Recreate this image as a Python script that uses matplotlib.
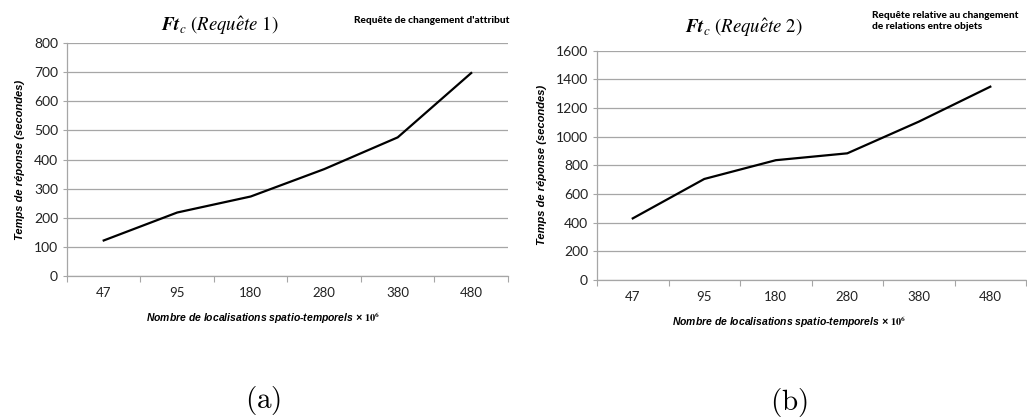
import numpy as np
import matplotlib
matplotlib.use("Agg")
import matplotlib.pyplot as plt

categories = ["47", "95", "180", "280", "380", "480"]
req1 = [122, 218, 273, 367, 476, 697]
req2 = [430, 705, 836, 884, 1105, 1349]

plt.rcParams['font.family'] = ['Lato', 'DejaVu Sans']
plt.rcParams['mathtext.fontset'] = 'stix'

fig = plt.figure(figsize=(10.27, 4.18), dpi=100)

grid_c = '#a6a6a6'
narrow = ['Liberation Sans Narrow', 'Liberation Sans', 'DejaVu Sans']


def style_ax(ax, ymax, ystep):
    x = np.arange(len(categories))
    ax.set_xlim(-0.5, len(categories) - 0.5)
    ax.set_ylim(0, ymax)
    ax.set_yticks(np.arange(0, ymax + 1, ystep))
    ax.set_xticks(x)
    ax.set_xticklabels(categories)
    ax.set_xticks(np.arange(-0.5, len(categories), 1.0), minor=True)
    ax.tick_params(axis='x', which='major', length=0, labelsize=9.5, pad=8, colors='#222222')
    ax.tick_params(axis='x', which='minor', length=4, color=grid_c, width=0.8)
    ax.tick_params(axis='y', length=3, color=grid_c, width=0.8, labelsize=10, labelcolor='#222222')
    ax.grid(axis='y', color=grid_c, linewidth=0.9)
    ax.set_axisbelow(True)
    for s in ['top', 'right']:
        ax.spines[s].set_visible(False)
    for s in ['left', 'bottom']:
        ax.spines[s].set_color(grid_c)
        ax.spines[s].set_linewidth(0.9)
    ax.set_ylabel('Temps de réponse (secondes)', fontsize=8, fontweight='bold',
                  fontstyle='italic', family=narrow, labelpad=6)


xlab = r'Nombre de localisations spatio-temporels × $\mathbf{10^{6}}$'

# (a)
ax1 = fig.add_axes([0.0652, 0.3397, 0.4294, 0.5574])
style_ax(ax1, 800, 100)
ax1.plot(np.arange(len(categories)), req1, color='black', linewidth=1.6)
fig.text(0.214, 0.94, r'$\mathbfit{Ft}_c\ (Requ\hat{e}te\ 1)$', fontsize=13.5,
         ha='center', va='center')
fig.text(0.496, 0.95, "Requête de changement d'attribut", fontsize=7.3,
         fontweight='black', ha='right', va='center')
fig.text(0.256, 0.239, xlab, fontsize=7.5, fontweight='bold', fontstyle='italic',
         family=narrow, ha='center', va='center')
fig.text(0.256, 0.043, r'$\mathrm{(a)}$', fontsize=21, ha='center', va='center',
         math_fontfamily='cm')

# (b)
ax2 = fig.add_axes([0.5813, 0.3301, 0.4178, 0.5486])
style_ax(ax2, 1600, 200)
ax2.plot(np.arange(len(categories)), req2, color='black', linewidth=1.6)
fig.text(0.724, 0.935, r'$\mathbfit{Ft}_c\ (Requ\hat{e}te\ 2)$', fontsize=13.5,
         ha='center', va='center')
fig.text(0.849, 0.95, "Requête relative au changement\nde relations entre objets",
         fontsize=7.3, fontweight='black', ha='left', va='center', linespacing=1.3)
fig.text(0.768, 0.228, xlab, fontsize=7.5, fontweight='bold', fontstyle='italic',
         family=narrow, ha='center', va='center')
fig.text(0.768, 0.036, r'$\mathrm{(b)}$', fontsize=21, ha='center', va='center',
         math_fontfamily='cm')

fig.savefig('out.png', dpi=100)
